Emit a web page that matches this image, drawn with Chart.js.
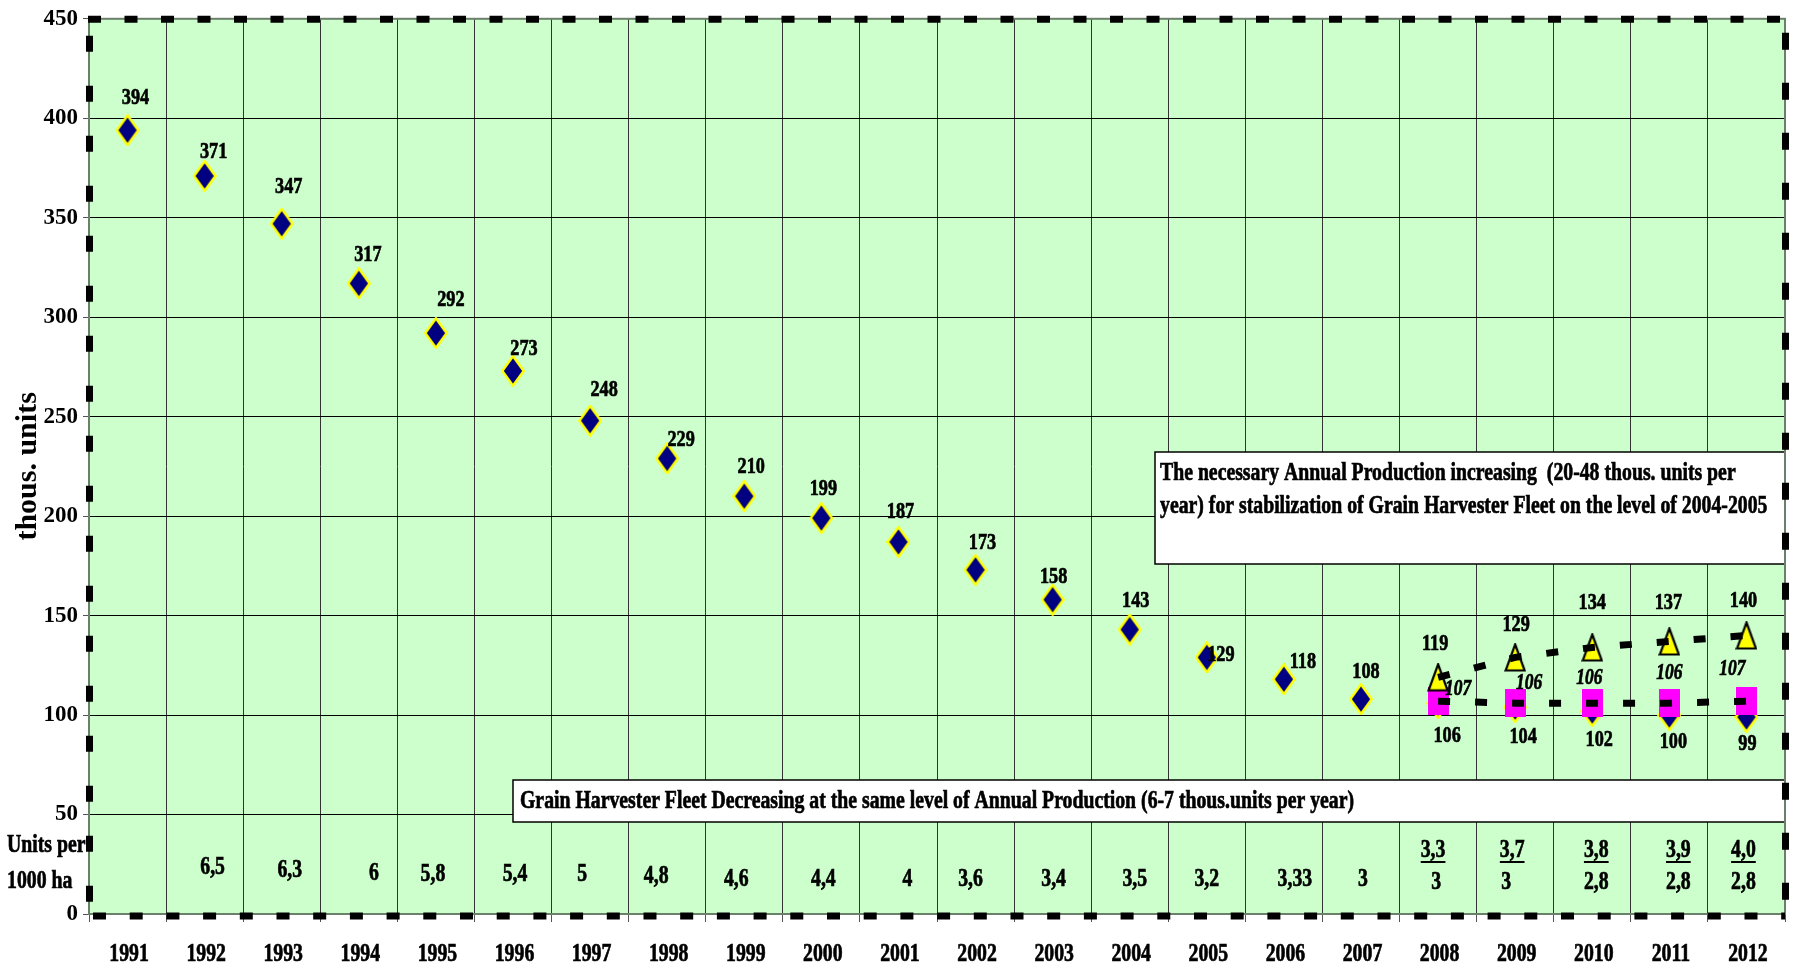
<!DOCTYPE html>
<html>
<head>
<meta charset="utf-8">
<title>Grain Harvester Fleet</title>
<script src="https://cdn.jsdelivr.net/npm/chart.js@4.4.1/dist/chart.umd.min.js"></script>
<style>
    html, body { margin: 0; padding: 0; background: #fff; }
    #wrap { width: 1796px; height: 973px; }
</style>
</head>
<body>
<div id="wrap"><canvas id="fleetChart" width="1796" height="973"></canvas></div>
<script>
// Data
const years = ['1991', '1992', '1993', '1994', '1995', '1996', '1997', '1998', '1999', '2000', '2001',
    '2002', '2003', '2004', '2005', '2006', '2007', '2008', '2009', '2010', '2011', '2012'];

// Fleet size, thous. units (2008-2012 = decreasing at same annual production)
const fleet = [394, 371, 347, 317, 292, 273, 248, 229, 210, 199, 187, 173, 158, 143, 129, 118, 108,
    106, 104, 102, 100, 99];

// Fleet with the necessary production increase
const fleetStabilized = [null, null, null, null, null, null, null, null, null, null, null, null, null,
    null, null, null, null, 119, 129, 134, 137, 140];

// Required annual production, thous. units
const productionNeeded = [null, null, null, null, null, null, null, null, null, null, null, null, null,
    null, null, null, null, 107, 106, 106, 106, 107];

// Units per 1000 ha
const unitsPerHa = [null, 6.5, 6.3, 6, 5.8, 5.4, 5, 4.8, 4.6, 4.4, 4, 3.6, 3.4, 3.5, 3.2, 3.33, 3,
    3, 3, 2.8, 2.8, 2.8];
const unitsPerHaStabilized = [null, null, null, null, null, null, null, null, null, null, null, null,
    null, null, null, null, null, 3.3, 3.7, 3.8, 3.9, 4.0];

const yTicks = [0, 50, 100, 150, 200, 250, 300, 350, 400, 450];

const noteTop = [
    'The necessary Annual Production increasing  (20-48 thous. units per',
    'year) for stabilization of Grain Harvester Fleet on the level of 2004-2005'
];
const noteBottom = 'Grain Harvester Fleet Decreasing at the same level of Annual Production (6-7 thous.units per year)';

// Label nudges (px) so the numbers sit where they were placed by hand
const fleetLabelDx = [8, 9, 7, 9, 15, 11, 14, 14, 7, 2, 2, 7, 1, 6, 14, 19, 5, 9, 8, 7, 4, 1];
const fleetLabelDy = [-32, -24, -37, -29, -33, -22, -31, -19, -29, -29, -30, -27, -23, -29, -3, -17, -27,
    33, 30, 29, 27, 27];
const stabLabelDx = [-3, 1, 0, -1, -3];
const stabLabelDy = [-33, -33, -45, -39, -35];
const prodLabelDx = [20, 14, -3, 0, -14];
const prodLabelDy = [-12, -20, -25, -30, -32];
const rowDx = [0, 8, 8, 15, -3, 2, -8, -11, -8, 2, 9, -5, 1, 5, 0, 11, 2, -2, -9, 4, 9, -3];
const rowDy = [0, -12, -9, -6, -5, -5, -5, -3, 0, 0, 0, 0, 0, 0, 0, 0, 0, 0, 0, 0, 0, 0];
const rowTopDx = [-5, -3, 4, 9, -3];

const SERIF = "'Liberation Serif', 'Times New Roman', serif";
const SQUEEZE = 0.76;

// Marker images
function markerCanvas(w, h, paint) {
    const c = document.createElement('canvas');
    c.width = w;
    c.height = h;
    paint(c.getContext('2d'), w, h);
    return c;
}

const diamond = markerCanvas(24, 32, (g, w, h) => {
    g.beginPath();
    g.moveTo(w / 2, 1.3);
    g.lineTo(w - 1.3, h / 2);
    g.lineTo(w / 2, h - 1.3);
    g.lineTo(1.3, h / 2);
    g.closePath();
    g.fillStyle = '#000080';
    g.fill();
    g.lineWidth = 2.5;
    g.strokeStyle = '#FFFF00';
    g.stroke();
});

const triangle = markerCanvas(22, 29, (g, w, h) => {
    g.beginPath();
    g.moveTo(w / 2, 1.5);
    g.lineTo(w - 1.5, h - 1.5);
    g.lineTo(1.5, h - 1.5);
    g.closePath();
    g.fillStyle = '#FFFF00';
    g.fill();
    g.lineWidth = 2.2;
    g.lineJoin = 'miter';
    g.strokeStyle = '#000';
    g.stroke();
});

const square = markerCanvas(21, 28, (g, w, h) => {
    g.fillStyle = '#FF00FF';
    g.fillRect(0, 0, w, h);
});

const fmt = (v) => String(v).replace('.', ',');

// Squeezed, slightly heavy serif text
function drawText(ctx, text, x, y, font, align = 'center', underline = false) {
    ctx.save();
    ctx.font = font;
    ctx.fillStyle = '#000';
    ctx.strokeStyle = '#000';
    ctx.lineWidth = 0.7;
    ctx.textBaseline = 'middle';
    ctx.textAlign = align;
    ctx.translate(x, y);
    ctx.scale(SQUEEZE, 1);
    ctx.fillText(text, 0, 0);
    ctx.strokeText(text, 0, 0);
    if (underline) {
        const w = ctx.measureText(text).width;
        const x0 = align === 'center' ? -w / 2 : 0;
        ctx.fillRect(x0, 11, w, 2);
    }
    ctx.restore();
}

function dashedEdge(ctx, x1, y1, x2, y2, dash) {
    ctx.save();
    ctx.strokeStyle = '#000';
    ctx.lineWidth = 7;
    ctx.setLineDash(dash);
    ctx.beginPath();
    ctx.moveTo(x1, y1);
    ctx.lineTo(x2, y2);
    ctx.stroke();
    ctx.restore();
}

function noteBox(ctx, x, y, w, h) {
    ctx.save();
    ctx.fillStyle = '#fff';
    ctx.fillRect(x, y, w, h);
    ctx.strokeStyle = '#000';
    ctx.lineWidth = 1.5;
    ctx.strokeRect(x, y, w, h);
    ctx.restore();
}

const plotDecor = {
    id: 'plotDecor',
    beforeDraw(chart) {
        const { ctx, chartArea: a } = chart;
        ctx.save();
        ctx.fillStyle = '#CCFFCC';
        ctx.fillRect(a.left, a.top, a.right - a.left, a.bottom - a.top);
        ctx.restore();
    },
    afterDatasetsDraw(chart) {
        const { ctx } = chart;
        const x = chart.scales.x;
        const bold = `bold 24px ${SERIF}`;
        const note = `bold 26px ${SERIF}`;
        const italic = `italic bold 23px ${SERIF}`;
        const row = `bold 26px ${SERIF}`;

        // value labels
        chart.getDatasetMeta(4).data.forEach((pt, i) => {
            drawText(ctx, String(fleet[i]), pt.x + fleetLabelDx[i], pt.y + fleetLabelDy[i], bold);
        });
        const first = fleetStabilized.findIndex(v => v !== null);
        chart.getDatasetMeta(2).data.forEach((pt, i) => {
            if (fleetStabilized[i] === null) return;
            const k = i - first;
            drawText(ctx, String(fleetStabilized[i]), pt.x + stabLabelDx[k], pt.y + stabLabelDy[k], bold);
        });
        chart.getDatasetMeta(3).data.forEach((pt, i) => {
            if (productionNeeded[i] === null) return;
            const k = i - first;
            drawText(ctx, String(productionNeeded[i]), pt.x + prodLabelDx[k], pt.y + prodLabelDy[k], italic);
        });

        // notes
        noteBox(ctx, 1155, 452, 630, 112);
        drawText(ctx, noteTop[0], 1160, 473, note, 'left');
        drawText(ctx, noteTop[1], 1160, 506, note, 'left');
        noteBox(ctx, 513, 780, 1272, 42);
        drawText(ctx, noteBottom, 520, 801, note, 'left');

        // units per 1000 ha row
        drawText(ctx, 'Units per', 7, 845, row, 'left');
        drawText(ctx, '1000 ha', 7, 881, row, 'left');
        years.forEach((yr, i) => {
            const cx = x.getPixelForValue(i);
            if (unitsPerHaStabilized[i] !== null) {
                const k = i - first;
                drawText(ctx, unitsPerHaStabilized[i].toFixed(1).replace('.', ','), cx + rowTopDx[k], 850, row, 'center', true);
                drawText(ctx, fmt(unitsPerHa[i]), cx + rowDx[i], 882, row);
            } else if (unitsPerHa[i] !== null) {
                drawText(ctx, fmt(unitsPerHa[i]), cx + rowDx[i], 879 + rowDy[i], row);
            }
            // year under the axis
            drawText(ctx, yr, cx + 1.5, 954, row);
        });
    },
    afterDraw(chart) {
        const { ctx, chartArea: a } = chart;
        ctx.save();
        ctx.strokeStyle = '#6a806a';
        ctx.lineWidth = 2;
        ctx.strokeRect(a.left, a.top, a.right - a.left, a.bottom - a.top);
        ctx.restore();
        dashedEdge(ctx, a.left - 1, a.top + 0.5, a.right, a.top + 0.5, [13, 23.5]);
        dashedEdge(ctx, a.left + 4, a.bottom + 2, a.right, a.bottom + 2, [13, 23.7]);
        dashedEdge(ctx, a.left + 0.5, a.top + 17, a.left + 0.5, a.bottom, [16, 34]);
        dashedEdge(ctx, a.right + 0.5, a.top + 14, a.right + 0.5, a.bottom, [17, 33]);
    }
};

const lineStyle = {
    showLine: true,
    pointRadius: 0,
    borderColor: '#000',
    borderWidth: 7,
    borderDash: [12, 25],
    fill: false,
    tension: 0
};

const ctx = document.getElementById('fleetChart').getContext('2d');
const fleetChart = new Chart(ctx, {
    type: 'line',
    data: {
        labels: years,
        datasets: [
            { ...lineStyle, data: fleetStabilized, order: 0 },
            { ...lineStyle, data: productionNeeded, order: 0 },
            { data: fleetStabilized, showLine: false, pointStyle: triangle, order: 1 },
            { data: productionNeeded, showLine: false, pointStyle: square, order: 2 },
            { data: fleet, showLine: false, pointStyle: diamond, order: 3 }
        ]
    },
    options: {
        responsive: false,
        devicePixelRatio: 1,
        animation: false,
        events: [],
        layout: { padding: { top: 16, right: 11, bottom: 0, left: 0 } },
        plugins: {
            legend: { display: false },
            tooltip: { enabled: false }
        },
        scales: {
            x: {
                type: 'category',
                offset: true,
                grid: { offset: true, color: '#333', lineWidth: 1, tickLength: 8, tickColor: '#555' },
                border: { display: false },
                ticks: { display: false },
                afterFit: (s) => { s.height = 59; }
            },
            y: {
                min: 0,
                max: 450,
                afterBuildTicks: (s) => { s.ticks = yTicks.map(v => ({ value: v })); },
                grid: { color: '#000', lineWidth: 1, tickLength: 6, tickColor: '#555' },
                border: { display: false },
                ticks: {
                    padding: 5,
                    color: '#000',
                    font: { family: SERIF, size: 23, weight: 'bold' }
                },
                title: {
                    display: true,
                    text: 'thous. units',
                    color: '#000',
                    padding: { top: 10, bottom: 0 },
                    font: { family: SERIF, size: 30, weight: 'bold' }
                },
                afterFit: (s) => { s.width = 89; }
            }
        }
    },
    plugins: [plotDecor]
});
</script>
</body>
</html>
